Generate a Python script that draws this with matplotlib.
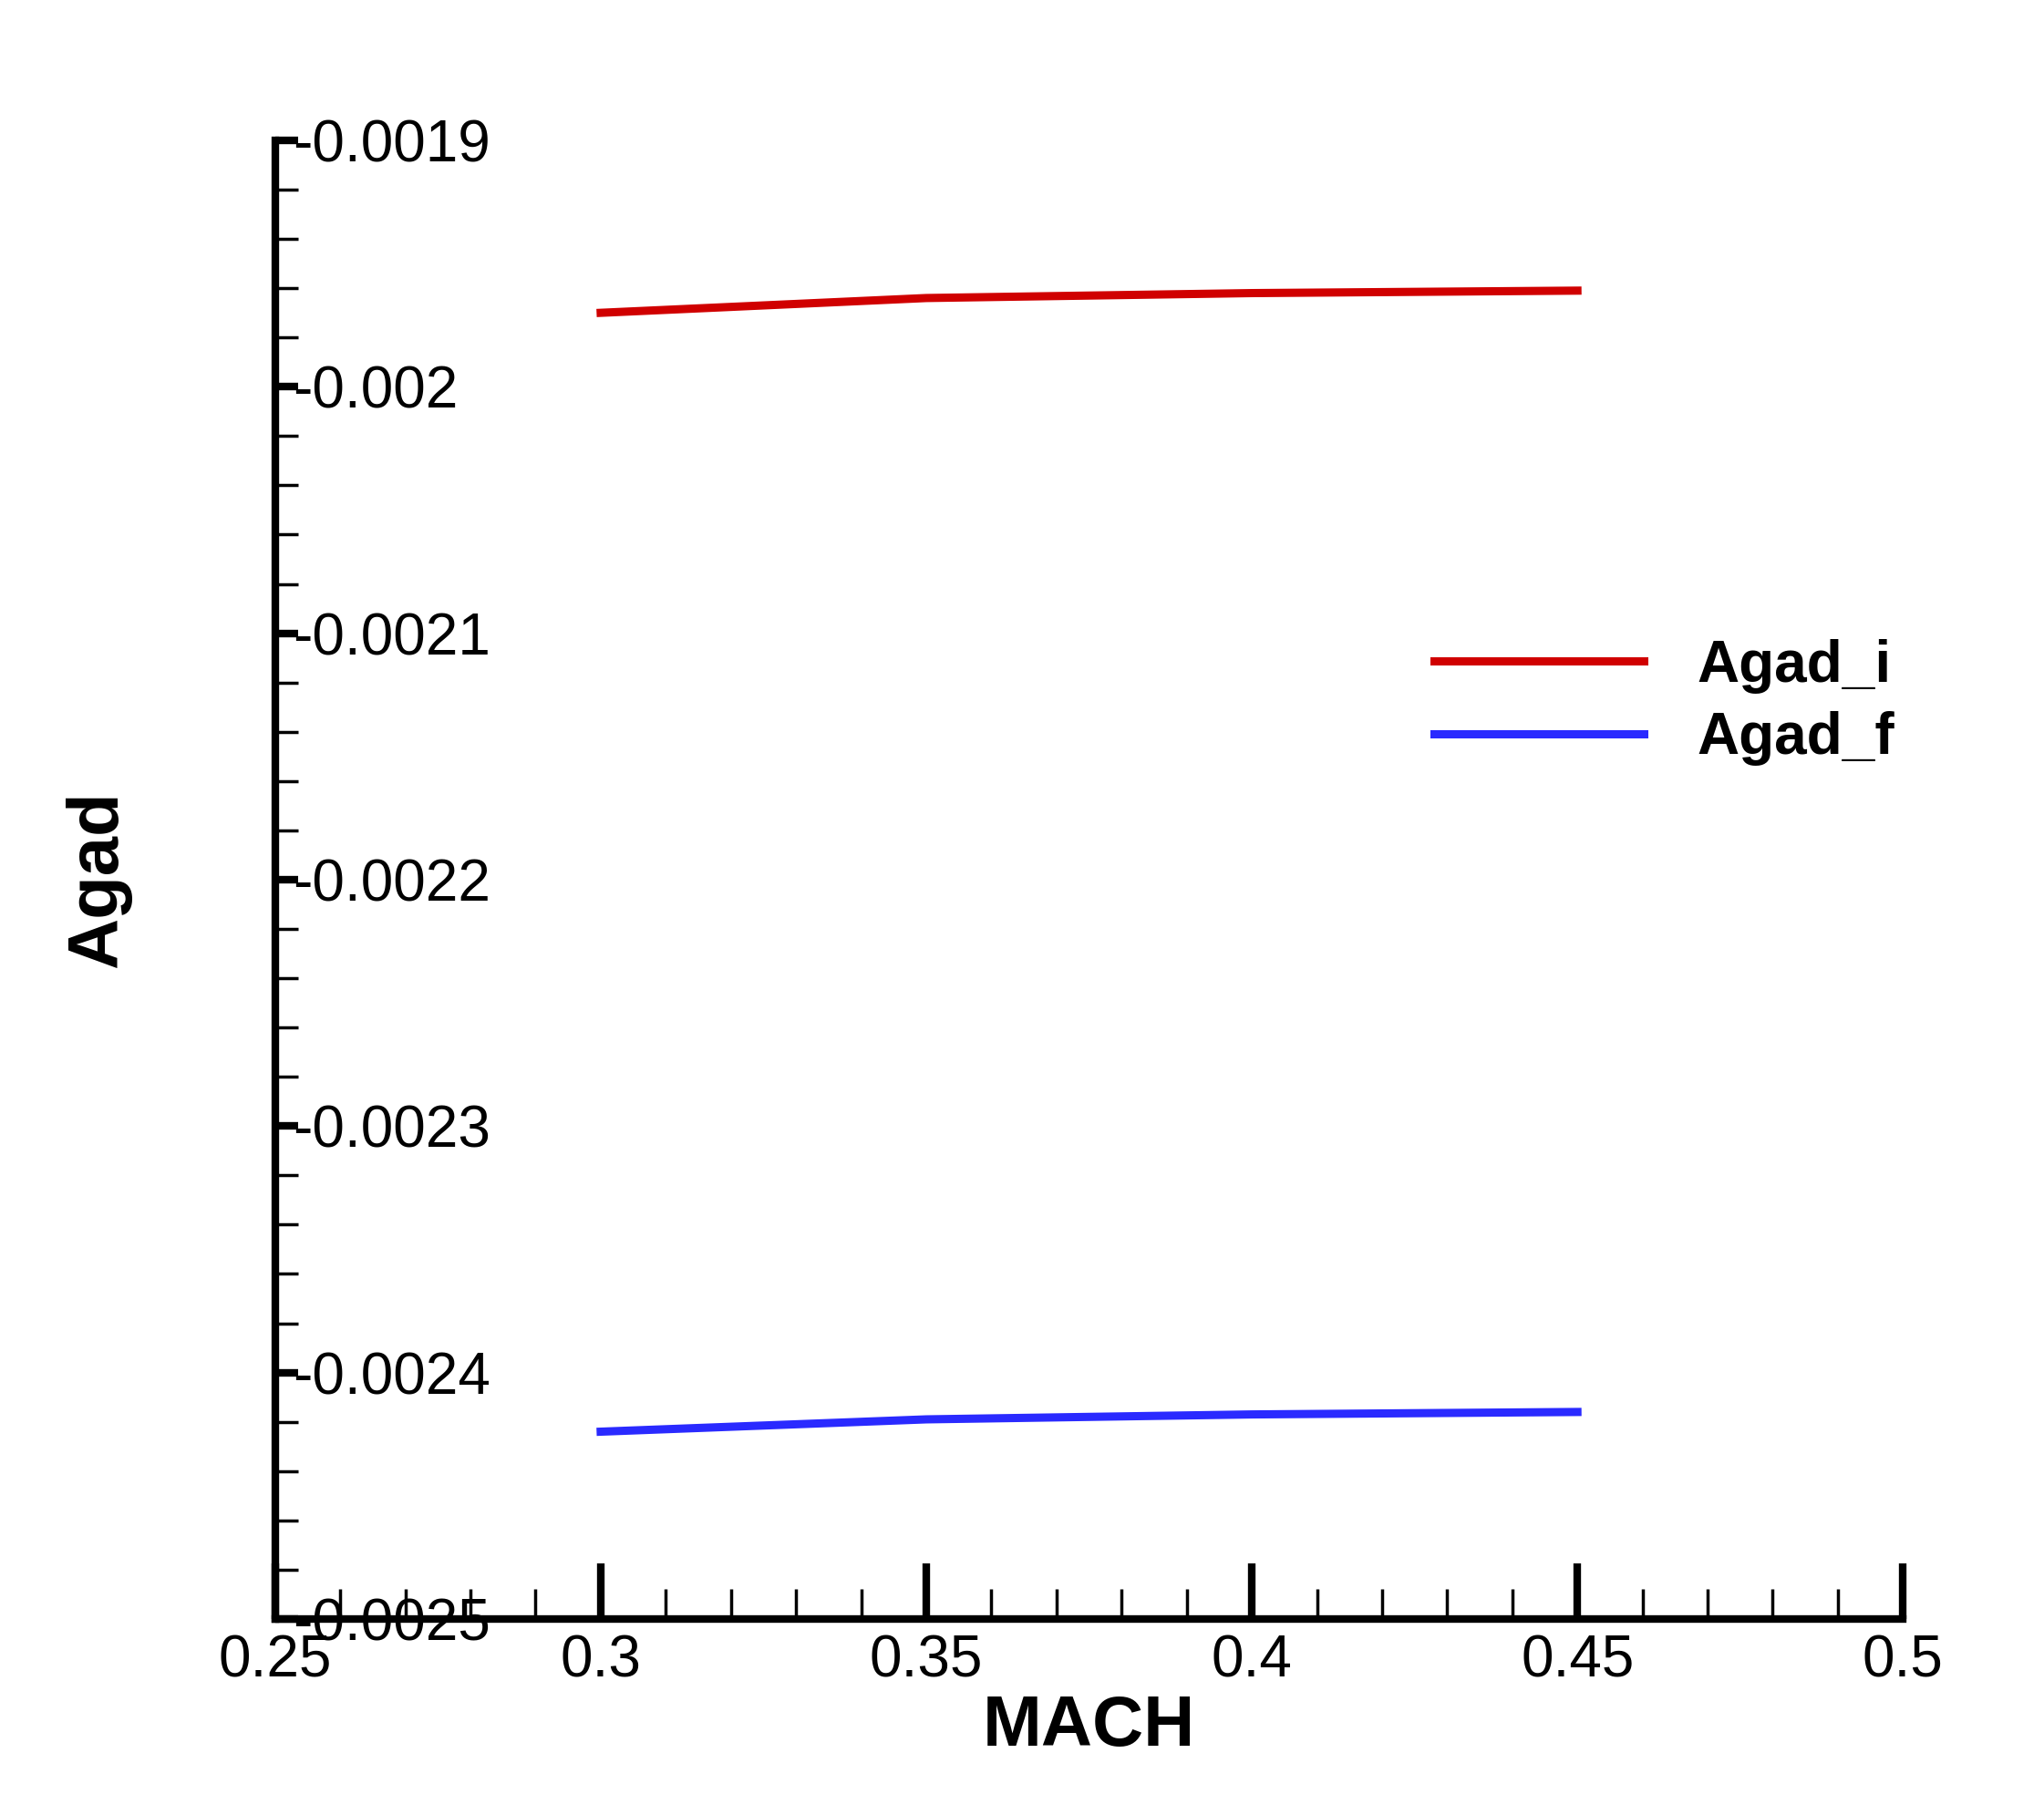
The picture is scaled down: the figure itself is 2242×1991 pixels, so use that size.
import matplotlib
matplotlib.use("Agg")
import matplotlib.pyplot as plt
from matplotlib.ticker import MultipleLocator

mach = [0.30, 0.35, 0.40, 0.45]
agad_i = [-0.001970, -0.001964, -0.001962, -0.001961]
agad_f = [-0.002424, -0.002419, -0.002417, -0.002416]
xticks = [0.25, 0.3, 0.35, 0.4, 0.45, 0.5]
xticklabels = ["0.25", "0.3", "0.35", "0.4", "0.45", "0.5"]
yticks = [-0.0025, -0.0024, -0.0023, -0.0022, -0.0021, -0.002, -0.0019]
yticklabels = ["-0.0025", "-0.0024", "-0.0023", "-0.0022", "-0.0021", "-0.002", "-0.0019"]

plt.rcParams['font.family'] = ['Liberation Sans', 'DejaVu Sans']
fig = plt.figure(figsize=(22.42, 19.91), dpi=100)
ax = fig.add_axes([0.1346, 0.108, 0.7964, 0.8147])
ax.plot(mach, agad_i, color='#d00000', lw=6.5, label='Agad_i')
ax.plot(mach, agad_f, color='#2a2aff', lw=6.5, label='Agad_f')
ax.set_xlim(0.25, 0.5)
ax.set_ylim(-0.0025, -0.0019)
ax.set_xticks(xticks)
ax.set_xticklabels(xticklabels)
ax.set_yticks(yticks)
ax.set_yticklabels(yticklabels)
ax.xaxis.set_minor_locator(MultipleLocator(0.01))
ax.yaxis.set_minor_locator(MultipleLocator(0.00002))
for s in ['top', 'right']:
    ax.spines[s].set_visible(False)
for s in ['left', 'bottom']:
    ax.spines[s].set_linewidth(6)
ax.tick_params(which='major', direction='in', length=44, width=6, labelsize=46)
ax.tick_params(which='minor', direction='in', length=24, width=2.5)
ax.tick_params(axis='y', which='major', length=18, width=6, pad=-14)
ax.tick_params(axis='y', which='minor', length=18, width=2.5)
ax.tick_params(axis='x', which='major', pad=12)
for lbl in ax.get_yticklabels():
    lbl.set_horizontalalignment('left')
ax.set_xlabel('MACH', fontsize=56, fontweight='bold', labelpad=4)
ax.set_ylabel('Agad', fontsize=56, fontweight='bold', labelpad=110)
ax.legend(loc='center left', bbox_to_anchor=(0.68, 0.62), frameon=False,
          prop={'weight': 'bold', 'size': 46}, handlelength=3.6, handletextpad=0.9,
          labelspacing=0.3)
fig.savefig('out.png', dpi=100, facecolor='white')
